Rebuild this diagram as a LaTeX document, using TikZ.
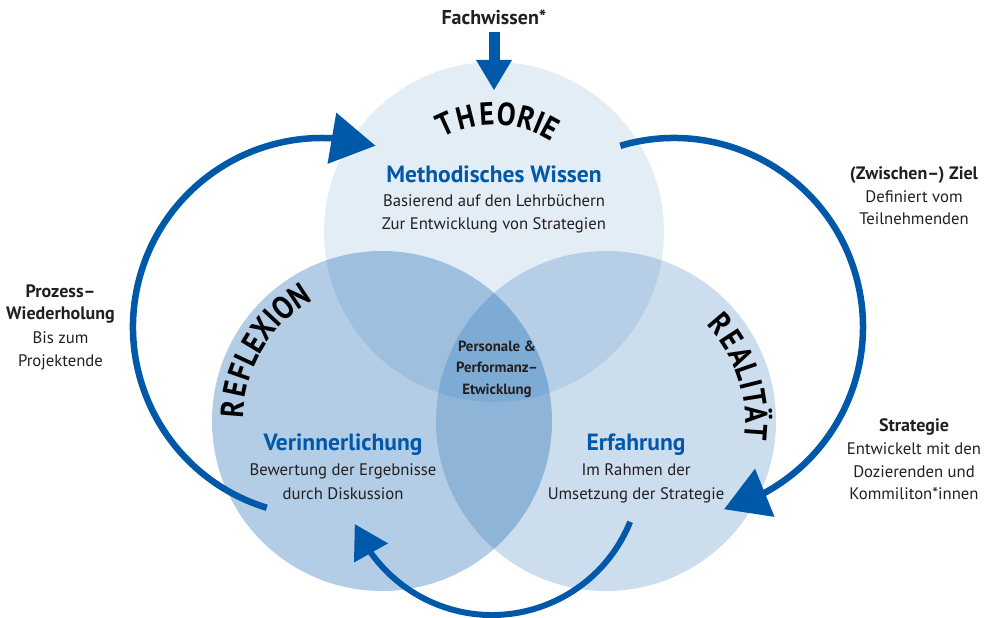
\documentclass[tikz,border=0pt]{standalone}
\usepackage{fontspec}
\usepackage{graphicx}
\setmainfont{PT Sans}
\usetikzlibrary{calc,arrows.meta}
\definecolor{dblue}{RGB}{0,88,168}
\definecolor{ink}{RGB}{35,31,32}
\newcommand{\narrowch}[1]{\scalebox{0.88}[1]{#1}}
\begin{document}
\begin{tikzpicture}[x=1pt,y=1pt,
  ring/.style={fill=dblue,fill opacity=#1},
  title/.style={anchor=base,text=dblue,inner sep=0pt,font=\bfseries\fontsize{23.5}{26}\selectfont},
  body/.style={anchor=base,text=ink,inner sep=0pt,font=\fontsize{16.7}{20}\selectfont},
  hdr/.style={anchor=base,text=ink,inner sep=0pt,font=\bfseries\fontsize{18}{20}\selectfont},
  ctr/.style={anchor=base,text=ink,inner sep=0pt,font=\bfseries\fontsize{14.8}{18}\selectfont},
  big/.style={anchor=base,text=black,inner sep=0pt,font=\bfseries\fontsize{32}{32}\selectfont},
  flow/.style={draw=dblue,line width=6.5pt},
  head/.style={fill=dblue},
]
\useasboundingbox (0,0) rectangle (991,618);
% circles
\coordinate (cT) at (494,386);
\coordinate (cL) at (382,197);
\coordinate (cR) at (606,197);
\fill[ring=0.11] (cT) circle[radius=170];
\fill[ring=0.30] (cL) circle[radius=170];
\fill[ring=0.20] (cR) circle[radius=170];
% curved labels
\foreach \ch/\a [count=\i] in {T/114.5,H/103.8,E/93.5,O/84,R/74,I/67.4,E/61.5}
  \node[big,rotate=\a-90] (th\i) at ($(cT)+(\a:107)$) {\narrowch{\ch}};
\foreach \ch/\a [count=\i] in {R/175.5,E/167.8,F/160.8,L/154.8,E/148.8,X/142.2,I/136.9,O/131.2,N/123.5}
  \node[big,rotate=\a-90] (rf\i) at ($(cL)+(\a:139)$) {\narrowch{\ch}};
\foreach \ch/\a [count=\i] in {R/40.5,E/33,A/25.5,L/19.1,I/14.1,T/9,Ä/2.3,T/-4.2}
  \node[big,rotate=\a-90] (re\i) at ($(cR)+(\a:139)$) {\narrowch{\ch}};
% texts
\node[hdr,font=\bfseries\fontsize{20}{22}\selectfont] (fw) at (494,593) {Fachwissen*};
\node[title] (tTitle) at (494,435) {Methodisches Wissen};
\node[body] (t1) at (494,411) {Basierend auf den Lehrbüchern};
\node[body] (t2) at (494,388) {Zur Entwicklung von Strategien};
\node[title] (lTitle) at (343,167) {Verinnerlichung};
\node[body] (l1) at (343,142) {Bewertung der Ergebnisse};
\node[body] (l2) at (343,118) {durch Diskussion};
\node[title] (rTitle) at (636,167) {Erfahrung};
\node[body] (r1) at (636,142) {Im Rahmen der};
\node[body] (r2) at (636,118) {Umsetzung der Strategie};
\node[ctr] (c1) at (497,266) {Personale \&};
\node[ctr] (c2) at (497,245) {Performanz–};
\node[ctr] (c3) at (497,223) {Etwicklung};
\node[hdr] (p1) at (60.5,320) {Prozess–};
\node[hdr] (p2) at (60.5,298) {Wiederholung};
\node[body] (p3) at (60.5,274) {Bis zum};
\node[body] (p4) at (60.5,251) {Projektende};
\node[hdr] (z1) at (914,438) {(Zwischen–) Ziel};
\node[body] (z2) at (914,415) {Definiert vom};
\node[body] (z3) at (914,393) {Teilnehmenden};
\node[hdr] (s1) at (914,186) {Strategie};
\node[body] (s2) at (914,163) {Entwickelt mit den};
\node[body] (s3) at (914,140) {Dozierenden und};
\node[body] (s4) at (914,118) {Kommiliton*innen};
% Fachwissen arrow
\coordinate (Fs) at (494,586);
\coordinate (Fb) at (494,558);
\coordinate (Ft) at (494,528);
\draw[dblue,line width=11pt] (Fs) -- ($(Fb)+(0,-1)$);
\fill[head] ($(Fb)!18pt!90:(Ft)$) -- (Ft) -- ($(Fb)!18pt!-90:(Ft)$) -- cycle;
% left loop arrow
\coordinate (cA) at (322,291);
\coordinate (Ls) at ($(cA)+(253:189)$);
\coordinate (Lb) at ($(cA)+(87:189)$);
\coordinate (Lt) at ($(cA)+(73.6:189)$);
\draw[flow] (Ls) arc[start angle=253,end angle=86,radius=189];
\fill[head] ($(Lb)!26pt!90:(Lt)$) -- (Lt) -- ($(Lb)!26pt!-90:(Lt)$) -- cycle;
% right loop arrow
\coordinate (cB) at (674,291);
\coordinate (Rs) at ($(cB)+(106.5:189)$);
\coordinate (Rb) at ($(cB)+(-61.3:189)$);
\coordinate (Rt) at ($(cB)+(-74.6:189)$);
\draw[flow] (Rs) arc[start angle=106.5,end angle=-62.3,radius=189];
\fill[head] ($(Rb)!26pt!90:(Rt)$) -- (Rt) -- ($(Rb)!26pt!-90:(Rt)$) -- cycle;
% bottom arrow
\coordinate (cC) at (492,152);
\coordinate (Bs) at ($(cC)+(-22:149)$);
\coordinate (Bb) at ($(cC)+(-144.3:149)$);
\coordinate (Bt) at ($(cC)+(-157:149)$);
\draw[flow,line width=6pt] (Bs) arc[start angle=-22,end angle=-145.3,radius=149];
\fill[head] ($(Bb)!19.5pt!90:(Bt)$) -- (Bt) -- ($(Bb)!19.5pt!-90:(Bt)$) -- cycle;
\end{tikzpicture}
\end{document}
